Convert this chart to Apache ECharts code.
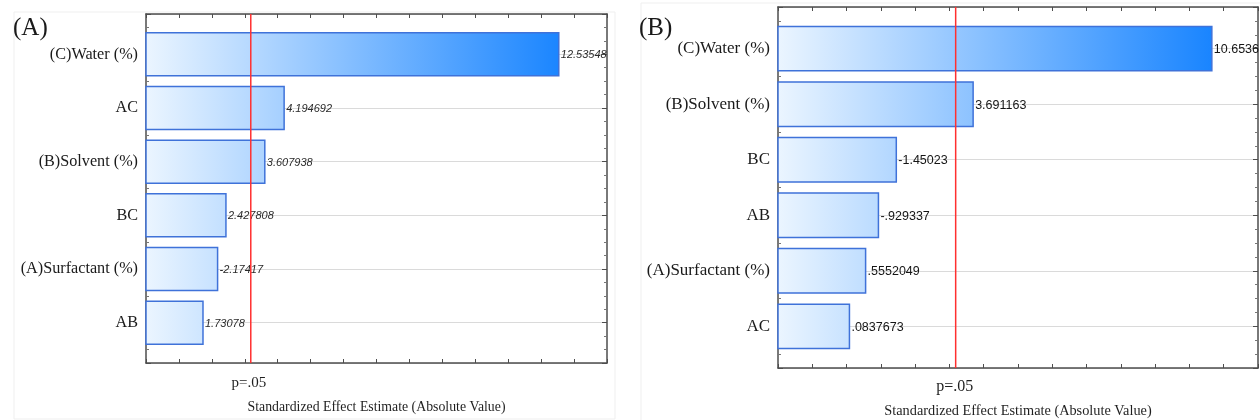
<!DOCTYPE html>
<html>
<head>
<meta charset="utf-8">
<style>
  html, body { margin: 0; padding: 0; background: #fff; }
  #chart { width: 1260px; height: 420px; }
</style>
<script src="https://cdn.jsdelivr.net/npm/echarts@6/dist/echarts.min.js"></script>
</head>
<body>
<div id="chart"></div>
<script>
// Pareto charts of standardized effects (two responses)
const categoriesA = ['(C)Water (%)', 'AC', '(B)Solvent (%)', 'BC', '(A)Surfactant (%)', 'AB'];
const effectsA = [12.53548, 4.194692, 3.607938, 2.427808, -2.17417, 1.73078];

const categoriesB = ['(C)Water (%)', '(B)Solvent (%)', 'BC', 'AB', '(A)Surfactant (%)', 'AC'];
const effectsB = [10.6536, 3.691163, -1.45023, -0.929337, 0.5552049, 0.0837673];

// Critical t value drawn as the p = .05 reference line
const pCritical = 3.182;
const pLabel = 'p=.05';
const axisTitle = 'Standardized Effect Estimate (Absolute Value)';
const panelNames = ['(A)', '(B)'];

// x-axis extents of the two panels
const xRangeA = [0, 14];
const xRangeB = [-2, 12];

// Statistica-style number text: 7 significant digits, no trailing zeros, no leading zero
function fmt(v) {
  let s = Number(v).toPrecision(7);
  if (s.indexOf('.') >= 0) s = s.replace(/0+$/, '').replace(/\.$/, '');
  s = s.replace(/^(-?)0\./, '$1.');
  return s;
}

const serif = '"Liberation Serif", "DejaVu Serif", serif';
const frameColor = '#4d4d4d';

function xAxes(gridIndex, range) {
  const common = {
    type: 'value', gridIndex, min: range[0], max: range[1], interval: 1,
    axisLine: { show: true, onZero: false, lineStyle: { color: frameColor, width: 1.5 } },
    axisTick: { show: true, inside: true, length: 4, lineStyle: { color: frameColor } },
    axisLabel: { show: false },
    splitLine: { show: false }
  };
  return [
    Object.assign({}, common, { position: 'bottom' }),
    Object.assign({}, common, { position: 'top' })
  ];
}

function yAxes(gridIndex, cats, fontSize) {
  const common = {
    type: 'value', gridIndex, min: -0.75, max: cats.length - 0.25, inverse: true,
    axisLine: { show: true, onZero: false, lineStyle: { color: frameColor, width: 1.5 } },
    axisTick: { show: true, inside: true, length: 5, lineStyle: { color: frameColor } },
    minorTick: { show: true, splitNumber: 4, length: 3, lineStyle: { color: '#777' } }
  };
  return [
    Object.assign({}, common, {
      position: 'left',
      axisLabel: {
        show: true, margin: 8, fontFamily: serif, fontSize, color: '#1a1a1a',
        formatter: v => (Number.isInteger(v) && cats[v] !== undefined) ? cats[v] : ''
      },
      splitLine: {
        show: true,
        lineStyle: { color: '#dadada', width: 1 }
      }
    }),
    Object.assign({}, common, {
      position: 'right',
      axisLabel: { show: false },
      splitLine: { show: false }
    })
  ];
}

function barSeries(axisBase, effects, range, labelFont) {
  return {
    type: 'custom',
    xAxisIndex: axisBase, yAxisIndex: axisBase,
    data: effects.map((v, i) => [Math.abs(v), i, v]),
    clip: false,
    z: 3,
    renderItem: function (params, api) {
      const idx = api.value(1);
      const len = api.value(0);
      const start = api.coord([range[0], idx]);
      const end = api.coord([len, idx]);
      const far = api.coord([range[1], idx]);
      const h = api.size([0, 1])[1] * 0.8;
      const fill = new echarts.graphic.LinearGradient(start[0], 0, far[0], 0, [
        { offset: 0, color: '#ebf5ff' },
        { offset: 0.9, color: '#1a85ff' },
        { offset: 1, color: '#0d7dff' }
      ], true);
      return {
        type: 'group',
        children: [
          {
            type: 'rect',
            shape: { x: start[0], y: start[1] - h / 2, width: end[0] - start[0], height: h },
            style: { fill: fill, stroke: '#3f72d9', lineWidth: 1.5 }
          },
          {
            type: 'text',
            x: end[0] + 2, y: end[1] + 1,
            style: Object.assign({
              text: fmt(api.value(2)),
              verticalAlign: 'middle', align: 'left'
            }, labelFont)
          }
        ]
      };
    }
  };
}

function critLine(axisBase, n) {
  return {
    type: 'line',
    xAxisIndex: axisBase, yAxisIndex: axisBase,
    data: [[pCritical, -0.75], [pCritical, n - 0.25]],
    symbol: 'none', silent: true, z: 4,
    lineStyle: { color: '#ff3030', width: 1.5 }
  };
}

const chart = echarts.init(document.getElementById('chart'), null, { renderer: 'canvas' });

const option = {
  animation: false,
  backgroundColor: '#ffffff',
  grid: [
    { left: 146, top: 14, width: 461, height: 349 },
    { left: 778, top: 7, width: 480, height: 361 }
  ],
  xAxis: [].concat(xAxes(0, xRangeA), xAxes(1, xRangeB)),
  yAxis: [].concat(yAxes(0, categoriesA, 16.2), yAxes(1, categoriesB, 17)),
  series: [
    barSeries(0, effectsA, xRangeA, { fontFamily: '"Liberation Sans", Arial, sans-serif', fontStyle: 'italic', fontSize: 11, fill: '#2a2a2a' }),
    critLine(0, categoriesA.length),
    barSeries(2, effectsB, xRangeB, { fontFamily: '"Liberation Sans", Arial, sans-serif', fontSize: 12.5, fill: '#151515' }),
    critLine(2, categoriesB.length)
  ]
};
// The second grid uses its own axis pair (indices 2 and 3)
option.series[2].xAxisIndex = 2; option.series[2].yAxisIndex = 2;
option.series[3].xAxisIndex = 2; option.series[3].yAxisIndex = 2;

chart.setOption(option);

// Texts placed from the axis scales: p=.05 under each reference line, titles under each axis
const pA = chart.convertToPixel({ xAxisIndex: 0, yAxisIndex: 0 }, [pCritical, categoriesA.length - 0.25]);
const pB = chart.convertToPixel({ xAxisIndex: 2, yAxisIndex: 2 }, [pCritical, categoriesB.length - 0.25]);
const midA = chart.convertToPixel({ xAxisIndex: 0 }, (xRangeA[0] + xRangeA[1]) / 2);
const midB = chart.convertToPixel({ xAxisIndex: 2 }, (xRangeB[0] + xRangeB[1]) / 2);

chart.setOption({
  graphic: [
    { type: 'rect', shape: { x: 14, y: 12, width: 601, height: 407 }, style: { fill: 'none', stroke: '#efefef', lineWidth: 1 }, z: -1 },
    { type: 'rect', shape: { x: 641, y: 3, width: 630, height: 430 }, style: { fill: 'none', stroke: '#efefef', lineWidth: 1 }, z: -1 },
    { type: 'text', x: 13, y: 28, style: { text: panelNames[0], font: '25px ' + serif, fill: '#1a1a1a', verticalAlign: 'middle' } },
    { type: 'text', x: 639, y: 28, style: { text: panelNames[1], font: '25px ' + serif, fill: '#1a1a1a', verticalAlign: 'middle' } },
    { type: 'text', x: pA[0] - 2, y: pA[1] + 20, style: { text: pLabel, font: '15px ' + serif, fill: '#1f1f1f', align: 'center', verticalAlign: 'middle' } },
    { type: 'text', x: pB[0] - 1, y: pB[1] + 19, style: { text: pLabel, font: '16px ' + serif, fill: '#1f1f1f', align: 'center', verticalAlign: 'middle' } },
    { type: 'text', x: midA, y: 407, style: { text: axisTitle, font: '13.8px ' + serif, fill: '#1f1f1f', align: 'center', verticalAlign: 'middle' } },
    { type: 'text', x: midB, y: 411, style: { text: axisTitle, font: '14.3px ' + serif, fill: '#1f1f1f', align: 'center', verticalAlign: 'middle' } }
  ]
});
</script>
</body>
</html>
